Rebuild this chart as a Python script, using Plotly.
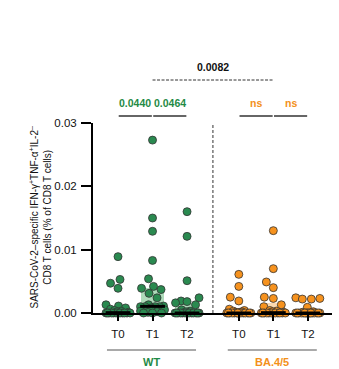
import numpy as np
import plotly.graph_objects as go

# ---------------- data ----------------
timepoints = ["T0", "T1", "T2"]
variants = ["WT", "BA.4/5"]

wt_t0 = [0.0089, 0.0053, 0.0047, 0.0039, 0.0013, 0.0011, 0.0008, 0.0006, 0.0004, 0.0003,
         0.0002, 0.0001, 0, 0, 0, 0, 0, 0, 0, 0, 0, 0, 0, 0]
wt_t1 = [0.0273, 0.0150, 0.0129, 0.0083, 0.0054, 0.0042, 0.0039, 0.0037, 0.0031, 0.0024,
         0.0013, 0.0011, 0.0010, 0.0010, 0.0010, 0.0010, 0.0008, 0.0005, 0.0003, 0.0002,
         0.0001, 0, 0, 0]
wt_t2 = [0.0160, 0.0121, 0.0051, 0.0024, 0.0019, 0.0018, 0.0016, 0.0013, 0.0005, 0.0003,
         0.0002, 0, 0, 0, 0, 0, 0, 0, 0, 0, 0, 0, 0, 0]
ba_t0 = [0.0061, 0.0042, 0.0025, 0.0019, 0.0006, 0.0004, 0.0003, 0.0002, 0.0001, 0.0001,
         0, 0, 0, 0, 0, 0, 0, 0, 0, 0, 0, 0, 0, 0]
ba_t1 = [0.0130, 0.0070, 0.0049, 0.0040, 0.0025, 0.0023, 0.0013, 0.0010, 0.0004, 0.0003,
         0.0002, 0.0001, 0, 0, 0, 0, 0, 0, 0, 0, 0, 0, 0, 0]
ba_t2 = [0.0024, 0.0023, 0.0022, 0.0022, 0.0009, 0.0002, 0.0001, 0, 0, 0,
         0, 0, 0, 0, 0, 0, 0, 0, 0, 0, 0, 0, 0, 0]

within_p_wt = ["0.0440", "0.0464"]
within_p_ba = ["ns", "ns"]
between_p = "0.0082"

y_ticks = [0.0, 0.01, 0.02, 0.03]
y_title = "SARS-CoV-2–specific IFN-γ<sup>+</sup>TNF-α<sup>+</sup>IL-2<sup>–</sup><br>CD8 T cells (% of CD8 T cells)"

# ---------------- styling ----------------
W, H = 339, 369
ML, MR, MT, MB = 93, 7, 123, 56
PW, PH = W - ML - MR, H - MT - MB
FONT = "Arial, Liberation Sans, sans-serif"

GREEN = "#2a8a50"
GREEN_BAR = "rgba(120,195,140,0.6)"
GREEN_TXT = "#1f8a46"
ORANGE = "#f6921e"
ORANGE_BAR = "rgba(250,190,120,0.6)"
ORANGE_TXT = "#f39019"

positions = [[0.0, 1.0, 2.0], [3.5, 4.5, 5.5]]
xmin, xmax = -0.725, 6.2
ymin, ymax = 0.0, 0.03
groups = [[wt_t0, wt_t1, wt_t2], [ba_t0, ba_t1, ba_t2]]
colors = [(GREEN, GREEN_BAR, GREEN_TXT), (ORANGE, ORANGE_BAR, ORANGE_TXT)]

xppu = PW / (xmax - xmin)
yppu = PH / (ymax - ymin)
MSIZE = 8
DIAM = 9.0
CAP = 12.0


def swarm(vals):
    vals = np.asarray(vals, dtype=float)
    placed = []
    offs = np.zeros(len(vals))
    cand = sorted(np.arange(-CAP, CAP + 0.01, 0.5), key=lambda c: (abs(c), c))
    for i in np.argsort(vals, kind="stable"):
        ypx = vals[i] * yppu
        chosen = None
        bestd, bestc = -1.0, 0.0
        for c in cand:
            if not placed:
                chosen = c
                break
            d = min(np.hypot(c - px, ypx - py) for px, py in placed)
            if d >= DIAM:
                chosen = c
                break
            if d > bestd:
                bestd, bestc = d, c
        if chosen is None:
            chosen = bestc
        placed.append((chosen, ypx))
        offs[i] = chosen
    return offs / xppu


def px_x(px):
    return (px - ML) / PW


def px_y(py):
    return (MT + PH - py) / PH


def dx_paper(x):
    return (x - xmin) / (xmax - xmin)


fig = go.Figure()
BARW = 0.68

for gi, (gvals, gpos) in enumerate(zip(groups, positions)):
    col, barcol, _ = colors[gi]
    for vals, p in zip(gvals, gpos):
        v = np.asarray(vals, dtype=float)
        q1, med, q3 = np.percentile(v, [25, 50, 75])
        fig.add_trace(go.Bar(x=[p], y=[q3 - q1], base=[q1], width=BARW,
                             marker=dict(color=barcol, line=dict(width=0)),
                             showlegend=False, hoverinfo="skip"))
for gi, (gvals, gpos) in enumerate(zip(groups, positions)):
    col, barcol, _ = colors[gi]
    for vals, p in zip(gvals, gpos):
        offs = swarm(vals)
        fig.add_trace(go.Scatter(x=p + offs, y=vals, mode="markers", cliponaxis=False,
                                 marker=dict(size=MSIZE, color=col,
                                             line=dict(color="#333333", width=0.8)),
                                 showlegend=False))
for gi, (gvals, gpos) in enumerate(zip(groups, positions)):
    for vals, p in zip(gvals, gpos):
        med = float(np.median(vals))
        fig.add_trace(go.Scatter(x=[p - BARW / 2 - 0.02, p + BARW / 2 + 0.02], y=[med, med],
                                 mode="lines", cliponaxis=False,
                                 line=dict(color="black", width=3),
                                 showlegend=False, hoverinfo="skip"))

shapes = []
annotations = []

# vertical dashed separator
sep = (positions[0][-1] + positions[1][0]) / 2
shapes.append(dict(type="line", xref="paper", yref="paper",
                   x0=dx_paper(sep), x1=dx_paper(sep), y0=0, y1=1,
                   line=dict(color="#333333", width=1, dash="3px,2px")))

# within-group brackets
br_y = px_y(116)
txt_y = px_y(103)
for gi, plist in enumerate([within_p_wt, within_p_ba]):
    txtcol = colors[gi][2]
    gpos = positions[gi]
    for k, ptxt in enumerate(plist):
        a, b = gpos[k], gpos[k + 1]
        mid = (a + b) / 2
        shapes.append(dict(type="line", xref="paper", yref="paper",
                           x0=dx_paper(mid - 0.48), x1=dx_paper(mid + 0.48), y0=br_y, y1=br_y,
                           line=dict(color="#666666", width=2)))
        annotations.append(dict(x=dx_paper(mid), y=txt_y, xref="paper", yref="paper",
                                text="<b>%s</b>" % ptxt, showarrow=False,
                                font=dict(family=FONT, size=10.5, color=txtcol),
                                xanchor="center", yanchor="middle"))

# between-group bracket (T1 WT vs T1 BA.4/5)
a, b = positions[0][1], positions[1][1]
shapes.append(dict(type="line", xref="paper", yref="paper",
                   x0=dx_paper(a), x1=dx_paper(b), y0=px_y(80), y1=px_y(80),
                   line=dict(color="#333333", width=1, dash="3px,1.5px")))
annotations.append(dict(x=dx_paper((a + b) / 2), y=px_y(67), xref="paper", yref="paper",
                        text="<b>%s</b>" % between_p, showarrow=False,
                        font=dict(family=FONT, size=10.5, color="#111111"),
                        xanchor="center", yanchor="middle"))

# group underlines and labels
for gi, gname in enumerate(variants):
    gpos = positions[gi]
    shapes.append(dict(type="line", xref="paper", yref="paper",
                       x0=dx_paper(gpos[0] - 0.32), x1=dx_paper(gpos[-1] + 0.26),
                       y0=px_y(350), y1=px_y(350),
                       line=dict(color="#555555", width=1)))
    annotations.append(dict(x=dx_paper((gpos[0] + gpos[-1]) / 2 - 0.03), y=px_y(362),
                            xref="paper", yref="paper",
                            text="<b>%s</b>" % gname, showarrow=False,
                            font=dict(family=FONT, size=11, color=colors[gi][2]),
                            xanchor="center", yanchor="middle"))

# y-axis title
annotations.append(dict(x=px_x(39.5), y=px_y(218), xref="paper", yref="paper",
                        text=y_title, showarrow=False, textangle=-90,
                        font=dict(family=FONT, size=10, color="#111111"),
                        xanchor="center", yanchor="middle"))

tickvals_x = positions[0] + positions[1]
ticktext_x = timepoints + timepoints

fig.update_layout(
    width=W, height=H,
    margin=dict(l=ML, r=MR, t=MT, b=MB, pad=0),
    paper_bgcolor="white", plot_bgcolor="white",
    barmode="overlay", bargap=0,
    shapes=shapes, annotations=annotations,
    font=dict(family=FONT, size=10, color="#111111"),
    xaxis=dict(range=[xmin, xmax], tickvals=tickvals_x, ticktext=ticktext_x,
               showgrid=False, zeroline=False, showline=True, linecolor="black", linewidth=2,
               ticks="outside", ticklen=6, tickwidth=1.5, tickcolor="black",
               ticklabelstandoff=3,
               tickfont=dict(family=FONT, size=11.5, color="#111111"), fixedrange=True),
    yaxis=dict(range=[ymin, ymax], tickvals=y_ticks, tickformat=".2f",
               showgrid=False, zeroline=False, showline=True, linecolor="black", linewidth=2,
               ticks="outside", ticklen=10, tickwidth=1.5, tickcolor="black",
               ticklabelstandoff=2,
               tickfont=dict(family=FONT, size=11.5, color="#111111"), fixedrange=True),
)

fig.write_html("out.html")
